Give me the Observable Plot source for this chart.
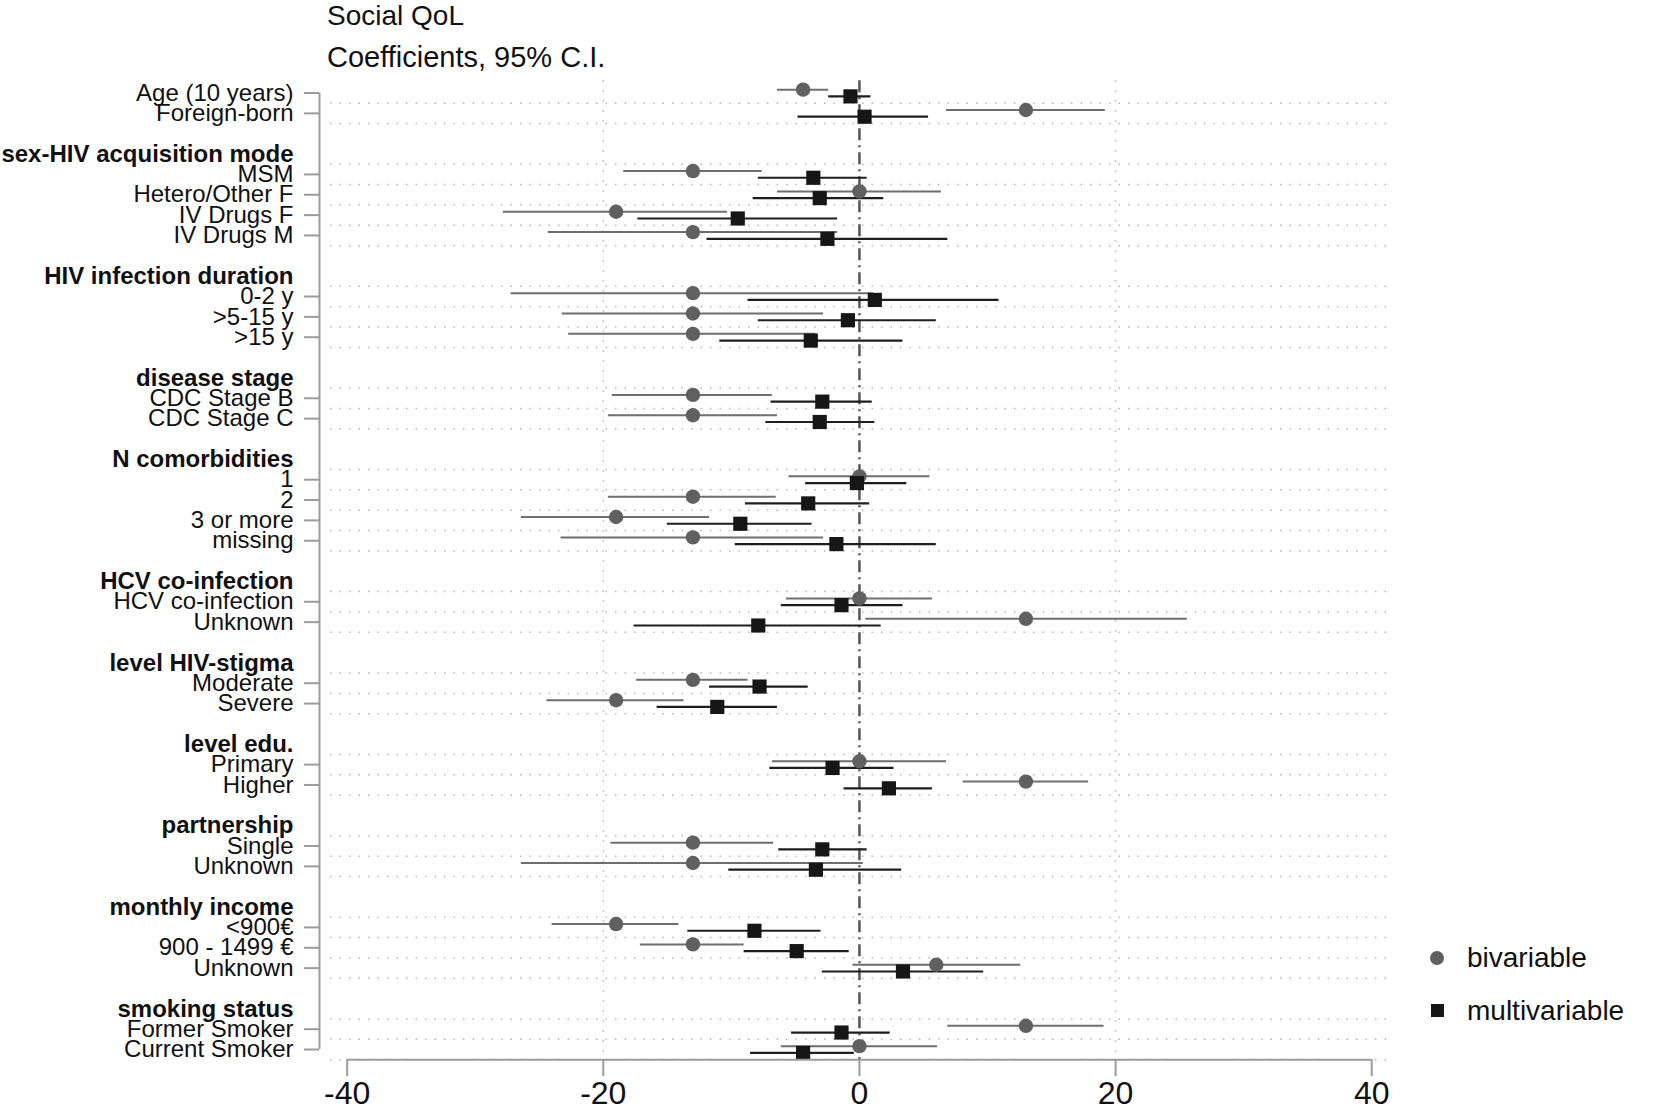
<!DOCTYPE html>
<html>
<head>
<meta charset="utf-8">
<script src="https://cdn.jsdelivr.net/npm/d3@7"></script>
<script src="https://cdn.jsdelivr.net/npm/@observablehq/plot@0.6"></script>
<style>
  html, body { margin: 0; padding: 0; background: #fff; }
  body { font-family: "Liberation Sans", Arial, Helvetica, sans-serif; color: #111; }
  #wrap { position: relative; width: 1655px; height: 1114px; overflow: hidden; }
  #head { position: relative; height: 76px; }
  .t { position: absolute; left: 327px; font-size: 28px; line-height: 28px; white-space: nowrap; color: #111; }
  #legend { position: absolute; left: 1428px; top: 931px; }
  .li { display: flex; align-items: center; height: 53px; }
  .mk { width: 18px; height: 18px; display: flex; align-items: center; justify-content: center; }
  .lt { margin-left: 21px; font-size: 28px; line-height: 28px; white-space: nowrap; }
</style>
</head>
<body>
<div id="wrap">
  <div id="head">
    <div class="t" style="top:2px">Social QoL</div>
    <div class="t" style="top:43px;font-size:29px">Coefficients, 95% C.I.</div>
  </div>
  <div id="chart"></div>
  <div id="legend"></div>
</div>
<script>
// ---------- data ----------
const groupNames = [
  null,
  "sex-HIV acquisition mode",
  "HIV infection duration",
  "disease stage",
  "N comorbidities",
  "HCV co-infection",
  "level HIV-stigma",
  "level edu.",
  "partnership",
  "monthly income",
  "smoking status"
];
const itemLabels = [
  "Age (10 years)", "Foreign-born",
  "MSM", "Hetero/Other F", "IV Drugs F", "IV Drugs M",
  "0-2 y", ">5-15 y", ">15 y",
  "CDC Stage B", "CDC Stage C",
  "1", "2", "3 or more", "missing",
  "HCV co-infection", "Unknown",
  "Moderate", "Severe",
  "Primary", "Higher",
  "Single", "Unknown",
  "<900€", "900 - 1499 €", "Unknown",
  "Former Smoker", "Current Smoker"
];
const itemGroup = [0,0, 1,1,1,1, 2,2,2, 3,3, 4,4,4,4, 5,5, 6,6, 7,7, 8,8, 9,9,9, 10,10];

const bivEst = [-4.4, 13.0, -13.0, 0.0, -19.0, -13.0, -13.0, -13.0, -13.0, -13.0, -13.0, 0.0, -13.0, -19.0, -13.0, 0.0, 13.0, -13.0, -19.0, 0.0, 13.0, -13.0, -13.0, -19.0, -13.0, 6.0, 13.0, 0.0];
const bivLo  = [-6.4, 6.8, -18.4, -6.4, -27.8, -24.3, -27.2, -23.2, -22.7, -19.3, -19.6, -5.5, -19.6, -26.4, -23.3, -5.7, 0.5, -17.4, -24.4, -6.8, 8.1, -19.4, -26.4, -24.0, -17.1, -0.5, 6.9, -6.1];
const bivHi  = [-2.4, 19.2, -7.6, 6.4, -10.3, -1.7, 1.1, -2.8, -3.4, -6.8, -6.4, 5.5, -6.5, -11.7, -2.8, 5.7, 25.6, -8.7, -13.7, 6.8, 17.9, -6.7, 0.3, -14.1, -9.0, 12.6, 19.1, 6.1];
const mulEst = [-0.7, 0.4, -3.6, -3.1, -9.5, -2.5, 1.2, -0.9, -3.8, -2.9, -3.1, -0.2, -4.0, -9.3, -1.8, -1.4, -7.9, -7.8, -11.1, -2.1, 2.3, -2.9, -3.4, -8.2, -4.9, 3.4, -1.4, -4.4];
const mulLo  = [-2.4, -4.8, -7.9, -8.3, -17.3, -11.9, -8.7, -7.9, -10.9, -6.9, -7.3, -4.2, -8.9, -15.0, -9.7, -6.1, -17.6, -11.7, -15.8, -7.0, -1.2, -6.3, -10.2, -13.4, -9.0, -2.9, -5.3, -8.5];
const mulHi  = [0.9, 5.4, 0.6, 1.9, -1.7, 6.9, 10.9, 6.0, 3.4, 1.0, 1.2, 3.7, 0.8, -3.7, 6.0, 3.4, 1.7, -4.0, -6.4, 2.7, 5.7, 0.6, 3.3, -3.0, -0.8, 9.7, 2.4, -0.4];

const xTicks = [-40, -20, 0, 20, 40];
const seriesNames = ["bivariable", "multivariable"];
const seriesSymbols = ["circle", "square"];
const seriesFill = ["#606060", "#161616"];
const seriesLine = ["#6e6e6e", "#1e1e1e"];

// ---------- layout rows ----------
const items = [], headers = [];
let row = 0, prev = -1;
itemLabels.forEach((label, i) => {
  const g = itemGroup[i];
  if (g !== prev) {
    if (i > 0) row++;                       // blank spacer row
    if (groupNames[g]) { headers.push({row, name: groupNames[g]}); row++; }
    prev = g;
  }
  items.push({row, label, b: bivEst[i], bl: bivLo[i], bh: bivHi[i], m: mulEst[i], ml: mulLo[i], mh: mulHi[i]});
  row++;
});
const lastRow = row - 1;
const labelByRow = new Map(items.map(d => [d.row, d.label]));
const gridRows = [...items, ...headers].map(d => d.row + 0.5);
const off = 0.165;
const xDomain = [-41.3, 41.7];
const axisGray = "#9c9c9c";

const chart = Plot.plot({
  width: 1655,
  height: 1038,
  marginLeft: 330,
  marginRight: 262,
  marginTop: 4.3,
  marginBottom: 54.8,
  style: {fontFamily: '"Liberation Sans", Arial, Helvetica, sans-serif', fontSize: "24px", background: "#fff", color: "#111"},
  x: {domain: xDomain},
  y: {domain: [-0.6, lastRow + 0.5], reverse: true},
  marks: [
    Plot.ruleY(gridRows, {stroke: "#b8b8b8", strokeWidth: 1.5, strokeDasharray: "1.5,8"}),
    Plot.ruleX(xTicks.filter(t => t !== 0 && Math.abs(t) < 40), {stroke: "#b8b8b8", strokeWidth: 1.5, strokeDasharray: "1.5,8.5"}),
    Plot.ruleX([0], {stroke: "#555555", strokeWidth: 2.5, strokeDasharray: "12,5,2,5"}),
    Plot.ruleY(items, {y: d => d.row - off, x1: "bl", x2: "bh", stroke: seriesLine[0], strokeWidth: 2}),
    Plot.ruleY(items, {y: d => d.row + off, x1: "ml", x2: "mh", stroke: seriesLine[1], strokeWidth: 2.2}),
    Plot.dot(items, {x: "b", y: d => d.row - off, r: 7.2, fill: seriesFill[0], symbol: seriesSymbols[0]}),
    Plot.dot(items, {x: "m", y: d => d.row + off, r: 8, fill: seriesFill[1], symbol: seriesSymbols[1]}),
    Plot.ruleY([lastRow + 0.5], {x1: xTicks[0], x2: xTicks[xTicks.length - 1], stroke: axisGray, strokeWidth: 2}),
    Plot.axisX({ticks: xTicks, tickFormat: d => String(d), tickSize: 17, tickPadding: 5, fontSize: 32, stroke: axisGray, strokeWidth: 2, fill: "#111", label: null}),
    Plot.ruleX([xDomain[0]], {y1: items[0].row, y2: lastRow, dx: -11, stroke: axisGray, strokeWidth: 2}),
    Plot.axisY({ticks: items.map(d => d.row), tickFormat: r => labelByRow.get(r), tickSize: 15, tickPadding: 11, dx: -11, fontSize: 24, stroke: axisGray, strokeWidth: 2, fill: "#111", label: null}),
    Plot.text(headers, {y: "row", text: "name", frameAnchor: "left", textAnchor: "end", dx: -37, fontWeight: "bold", fontSize: 24, fill: "#111"})
  ]
});
document.getElementById("chart").appendChild(chart);

// ---------- legend ----------
const legend = document.getElementById("legend");
seriesNames.forEach((name, i) => {
  const li = document.createElement("div");
  li.className = "li";
  const mk = document.createElement("div");
  mk.className = "mk";
  const shape = document.createElement("div");
  if (seriesSymbols[i] === "circle") {
    shape.style.cssText = `width:14px;height:14px;border-radius:50%;background:${seriesFill[i]}`;
  } else {
    shape.style.cssText = `width:13px;height:13px;background:${seriesFill[i]}`;
  }
  mk.appendChild(shape);
  const lt = document.createElement("div");
  lt.className = "lt";
  lt.textContent = name;
  li.appendChild(mk);
  li.appendChild(lt);
  legend.appendChild(li);
});
</script>
</body>
</html>
